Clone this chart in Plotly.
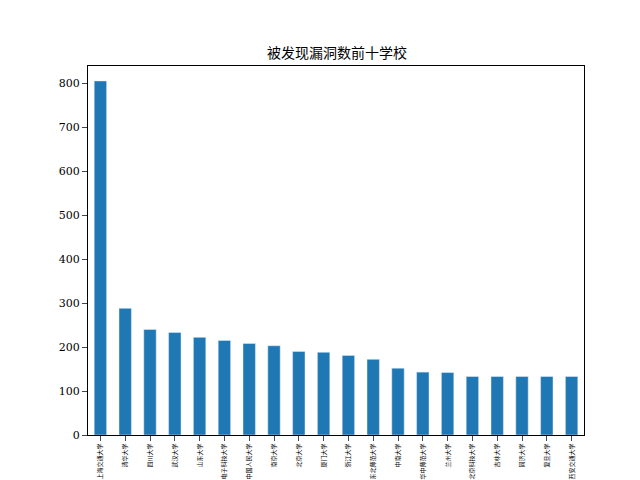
import plotly.graph_objs as go

schools = ["上海交通大学", "清华大学", "四川大学", "武汉大学", "山东大学", "电子科技大学",
           "中国人民大学", "南京大学", "北京大学", "厦门大学", "浙江大学", "东北师范大学",
           "中南大学", "华中师范大学", "兰州大学", "北京科技大学", "吉林大学", "同济大学",
           "复旦大学", "西安交通大学"]
counts = [805, 288, 240, 233, 222, 215, 208, 203, 190, 188, 181, 172, 152, 143, 142,
          133, 133, 133, 133, 133]

fig = go.Figure()
fig.add_trace(go.Bar(x=schools, y=counts, marker_color="#1f77b4", width=0.5))
fig.update_layout(
    width=640, height=480, plot_bgcolor="white", paper_bgcolor="white",
    margin=dict(l=80, r=64, t=58, b=53), showlegend=False,
    font=dict(family="Noto Sans CJK SC, DejaVu Serif", color="black", size=11),
    title=dict(text="被发现漏洞数前十学校", x=0.514, xanchor="center", y=0.906,
               yanchor="middle", font=dict(size=14)),
)
fig.update_xaxes(showline=True, mirror=True, linecolor="black", ticks="outside",
                 tickangle=-90, tickfont=dict(size=6), range=[-0.5, 19.5],
                 automargin=False)
fig.update_yaxes(showline=True, mirror=True, linecolor="black", ticks="outside",
                 range=[0, 839], dtick=100, showgrid=False, zeroline=False,
                 tickfont=dict(family="DejaVu Serif", size=11), automargin=False)
fig.write_html("out.html")
